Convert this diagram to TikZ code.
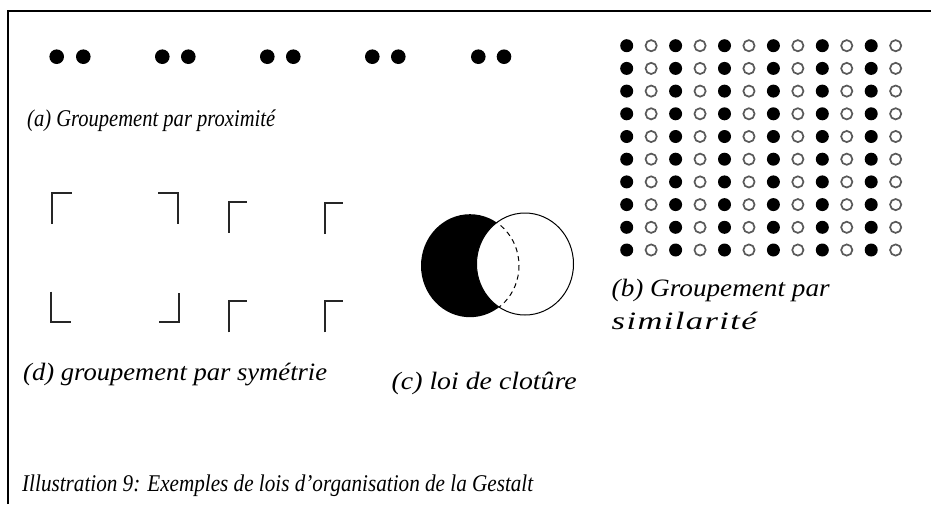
\documentclass[tikz,border=0pt]{standalone}
\usepackage{fontspec}
\usepackage{graphicx}
\setmainfont{Liberation Serif}
\newfontfamily\trackB[LetterSpace=4]{Liberation Serif}
\newcommand{\fitw}[2]{\resizebox{#1pt}{\height}{#2}}
\begin{document}
\begin{tikzpicture}[x=1pt,y=-1pt,
  lbl/.style={font=\fontsize{25}{29}\selectfont\itshape, inner sep=0pt, anchor=base west},
  lbls/.style={font=\fontsize{24}{28}\selectfont\itshape, inner sep=0pt, anchor=base west},
  brk/.style={line width=2pt, draw=black!85, line cap=butt},
  odot/.style={draw=black!65, line width=1.7pt, fill=white}]
\useasboundingbox (0,0) rectangle (931,504);
% frame
\draw[line width=1.5pt] (8,504) -- (8,11) -- (931,11);
% (a) proximity dots
\foreach \x in {56.7,83.3,162.3,188.3,267.3,293.3,372.3,398.3,478.3,504}
  \fill (\x,56.7) circle [radius=7.3];
\node[lbls] (la) at (27,126) {\fitw{248}{(a) Groupement par proximité}};
% (b) similarity grid
\foreach \c in {0,...,11}{
  \foreach \r in {0,...,9}{
    \pgfmathsetmacro{\px}{626.7+24.45*\c}
    \pgfmathsetmacro{\py}{45.7+22.7*\r}
    \ifodd\c
      \draw[odot] (\px,\py) circle [radius=5.6];
    \else
      \fill (\px,\py) circle [radius=6.5];
    \fi
  }
}
\node[lbl] (lb1) at (611.5,296) {\fitw{218}{(b) Groupement par}};
\node[lbl] (lb2) at (611.5,329) {\fitw{145}{\trackB\itshape similarité}};
% (d) symmetry brackets
\draw[brk] (52.3,224) -- (52.3,193.3) -- (71.7,193.3);
\draw[brk] (158.3,193.3) -- (177.7,193.3) -- (177.7,224);
\draw[brk] (50.7,291.7) -- (50.7,321.7) -- (70.7,321.7);
\draw[brk] (159.3,321.7) -- (179.3,321.7) -- (179.3,292.7);
\draw[brk] (229,232.7) -- (229,202) -- (246.7,202);
\draw[brk] (324.7,234) -- (324.7,203) -- (342.7,203);
\draw[brk] (229,332.3) -- (229,300.7) -- (246.7,300.7);
\draw[brk] (325.3,332.3) -- (325.3,300.7) -- (343.3,300.7);
\node[lbl] (ld) at (23,380) {\fitw{304}{(d) groupement par symétrie}};
% (c) closure
\fill (470,265.7) ellipse [x radius=49, y radius=51.5];
\filldraw[fill=white, draw=black, line width=1pt] (525,264) ellipse [x radius=48.5, y radius=51];
\begin{scope}
  \clip (525,264) ellipse [x radius=48.5, y radius=51];
  \draw[line width=1pt, dash pattern=on 5pt off 4pt] (470,265.7) ellipse [x radius=49, y radius=51.5];
\end{scope}
\node[lbl] (lc) at (391.5,389) {\fitw{185}{(c) loi de clotûre}};
% caption
\node[lbls] (cap) at (22,491) {\fitw{511}{Illustration 9: Exemples de lois d'organisation de la Gestalt}};
\end{tikzpicture}
\end{document}
